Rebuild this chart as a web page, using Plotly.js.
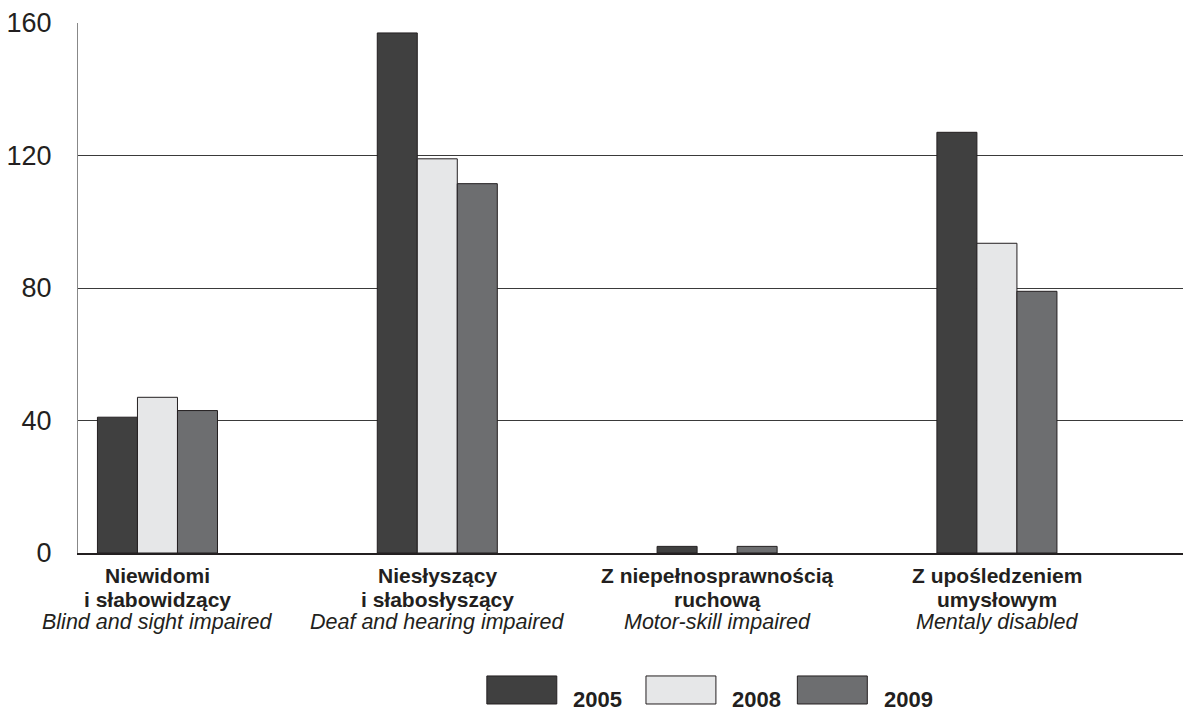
<!DOCTYPE html>
<html>
<head>
<meta charset="utf-8">
<script src="https://cdn.plot.ly/plotly-3.0.1.min.js"></script>
<style>html,body{margin:0;padding:0;background:#fff;}#chart{width:1183px;height:713px;}</style>
</head>
<body>
<div id="chart"></div>
<script>
// Data
const categories = [0, 1, 2, 3];
const labelsPL1 = ["Niewidomi", "Niesłyszący", "Z niepełnosprawnością", "Z upośledzeniem"];
const labelsPL2 = ["i słabowidzący", "i słabosłyszący", "ruchową", "umysłowym"];
const labelsEN = ["Blind and sight impaired", "Deaf and hearing impaired", "Motor-skill impaired", "Mentaly disabled"];
const seriesNames = ["2005", "2008", "2009"];
const values2005 = [41, 157, 2, 127];
const values2008 = [47, 119, null, 93.5];
const values2009 = [43, 111.5, 2, 79];
const seriesColors = ["#404040", "#e6e7e8", "#6d6e70"];
const yTicks = [0, 40, 80, 120, 160];

const seriesValues = [values2005, values2008, values2009];
const txt = "#231f20";
const fam = "Liberation Sans, Arial";

const traces = seriesNames.map((n, i) => ({
  type: "bar",
  name: n,
  x: categories,
  y: seriesValues[i],
  marker: {color: seriesColors[i], line: {color: txt, width: 1}},
  showlegend: false,
  hoverinfo: "y"
}));

const annotations = [];
categories.forEach((c, i) => {
  annotations.push({x: c, xref: "x", y: 0, yref: "paper", yshift: -22, yanchor: "middle", xanchor: "center",
    text: "<b>" + labelsPL1[i] + "</b>", showarrow: false, font: {family: fam, size: 21, color: txt}});
  annotations.push({x: c, xref: "x", y: 0, yref: "paper", yshift: -46, yanchor: "middle", xanchor: "center",
    text: "<b>" + labelsPL2[i] + "</b>", showarrow: false, font: {family: fam, size: 21, color: txt}});
  annotations.push({x: c, xref: "x", y: 0, yref: "paper", yshift: -69, yanchor: "middle", xanchor: "center",
    text: "<i>" + labelsEN[i] + "</i>", showarrow: false, font: {family: fam, size: 21.5, color: txt}});
});

// Custom legend
const shapes = [];
const legX = [0.370, 0.514, 0.651];
seriesNames.forEach((n, i) => {
  shapes.push({type: "rect", xref: "paper", yref: "paper", x0: legX[i], x1: legX[i] + 0.0633, y0: -0.2849, y1: -0.232,
    fillcolor: seriesColors[i], line: {color: txt, width: 1}});
  annotations.push({xref: "paper", yref: "paper", x: legX[i] + 0.0633 + 0.013, y: -0.277, xanchor: "left", yanchor: "middle",
    text: "<b>" + n + "</b>", showarrow: false, font: {family: fam, size: 22, color: txt}});
});

const layout = {
  width: 1183, height: 713,
  margin: {l: 78, r: 0, t: 23, b: 160, pad: 0},
  paper_bgcolor: "#fff", plot_bgcolor: "#fff",
  barmode: "group", bargap: 0.571, bargroupgap: 0,
  font: {family: fam, color: txt},
  xaxis: {range: [-0.284, 3.665], showticklabels: false, ticks: "", showgrid: false, zeroline: false,
          showline: true, linecolor: txt, linewidth: 1.5, fixedrange: true},
  yaxis: {range: [0, 160], tickvals: yTicks, ticktext: yTicks.map(String), showgrid: true, gridcolor: "#3a3a3a", gridwidth: 1,
          zeroline: false, showline: true, linecolor: "#888", linewidth: 1,
          ticks: "outside", ticklen: 20, tickcolor: "rgba(0,0,0,0)",
          tickfont: {size: 27, color: txt, family: fam}, fixedrange: true},
  shapes: shapes,
  annotations: annotations,
  showlegend: false
};

Plotly.newPlot("chart", traces, layout, {displayModeBar: false, staticPlot: true});
</script>
</body>
</html>
